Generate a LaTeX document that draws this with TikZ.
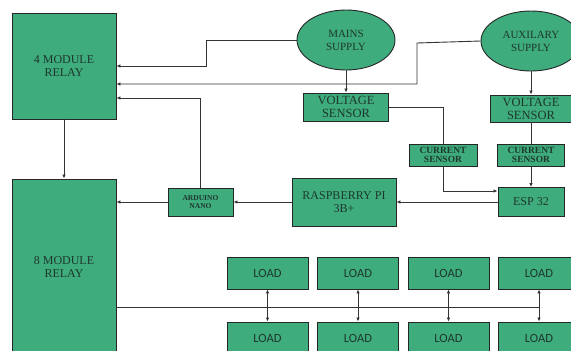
\documentclass[tikz,border=0pt]{standalone}
\usepackage{fontspec}
\setmainfont{Liberation Serif}
\newfontfamily\loadfont{Carlito}
\usetikzlibrary{arrows.meta,shapes.geometric}
\definecolor{boxgreen}{RGB}{62,172,125}
\definecolor{txtgreen}{RGB}{30,55,45}
\begin{document}
\begin{tikzpicture}[x=1pt, y=-1pt,
  blk/.style={draw=black!85, line width=0.9pt, fill=boxgreen, text=txtgreen,
    align=center, inner sep=0pt, font=\fontsize{12}{13}\selectfont},
  supply/.style={blk, ellipse, font=\fontsize{11}{13}\selectfont},
  sensor/.style={blk, font=\fontsize{12.5}{13}\selectfont},
  small/.style={blk, font=\bfseries\fontsize{9.5}{9}\selectfont},
  load/.style={blk, minimum width=81pt, minimum height=32pt, font=\loadfont\fontsize{12.5}{13}\selectfont},
  wire/.style={draw=black!80, line width=0.9pt},
  arr/.style={wire, -{Latex[length=4pt,width=3.5pt]}},
  darr/.style={wire, {Latex[length=4pt,width=3.5pt]}-{Latex[length=4pt,width=3.5pt]}}]
\useasboundingbox (0,0) rectangle (571,351);
\clip (0,0) rectangle (571,351);
% relays
\node[blk, minimum width=104pt, minimum height=106pt] (relayA) at (64,66) {4 MODULE\\RELAY};
\node[blk, minimum width=104pt, minimum height=176pt] (relayB) at (64,267) {8 MODULE\\RELAY};
% supplies and sensors
\node[supply, minimum width=98pt, minimum height=60pt] (mains) at (346,40) {MAINS\\SUPPLY};
\node[supply, minimum width=100pt, minimum height=60pt] (aux) at (531,41) {AUXILARY\\SUPPLY};
\node[sensor, minimum width=85pt, minimum height=28pt] (vsA) at (346,107) {VOLTAGE\\SENSOR};
\node[sensor, minimum width=81pt, minimum height=27pt] (vsB) at (531,108.5) {VOLTAGE\\SENSOR};
\node[small, minimum width=68pt, minimum height=22pt] (csA) at (443,155) {CURRENT\\SENSOR};
\node[small, minimum width=67pt, minimum height=22pt] (csB) at (531,155) {CURRENT\\SENSOR};
\node[blk, minimum width=66pt, minimum height=29pt] (esp) at (531,202) {ESP 32};
\node[blk, minimum width=104pt, minimum height=48pt] (rpi) at (344,202) {RASPBERRY PI\\3B+};
\node[small, minimum width=65pt, minimum height=28pt, font=\bfseries\fontsize{7.5}{8.5}\selectfont] (nano) at (200.5,202) {ARDUINO\\NANO};
% loads
\foreach \i/\x in {1/267.5,2/358,3/448.5,4/539}{
  \node[load] (top\i) at (\x,273) {LOAD};
  \node[load] (bot\i) at (\x,338) {LOAD};
  \draw[darr] (top\i.south) -- (bot\i.north);
}
% connections
\draw[arr] (mains.west) -- (206,40) -- (206,66) -- (relayA.east);
\draw[arr] (aux.west) -- (417,43) -- (417,84) -- (relayA.east |- 0,84);
\draw[arr] (nano.north) -- (nano.north |- 0,98) -- (relayA.east |- 0,98);
\draw[arr] (relayA.south) -- (relayB.north);
\draw[arr] (mains.south) -- (vsA.north);
\draw[wire] (vsA.east) -- (443,107) -- (csA.north);
\draw[arr] (csA.south) -- (443,191) -- (esp.west |- 0,191);
\draw[arr] (aux.south) -- (vsB.north);
\draw[wire] (vsB.south) -- (csB.north);
\draw[arr] (csB.south) -- (esp.north);
\draw[arr] (esp.west) -- (rpi.east);
\draw[arr] (rpi.west) -- (nano.east);
\draw[arr] (nano.west) -- (relayB.east |- nano.west);
\draw[wire] (relayB.east |- 0,307) -- (top4.south |- 0,307);
\end{tikzpicture}
\end{document}
